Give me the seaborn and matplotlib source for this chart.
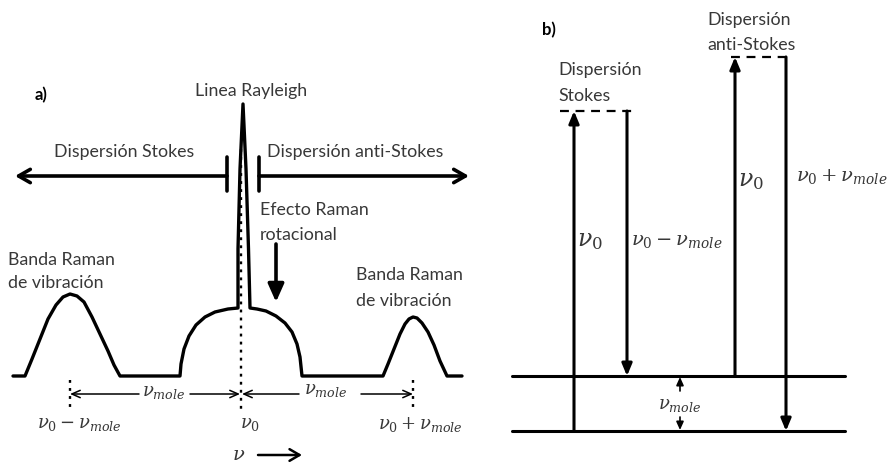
import matplotlib
matplotlib.use("Agg")
import matplotlib.pyplot as plt
import pandas as pd
import seaborn as sns

# ---------------------------------------------------------------
# Canvas coordinates: x to the right, y downwards (0..892, 0..464)
# ---------------------------------------------------------------

# a) Raman spectrum profile, traced left to right along the baseline
baseline_y = 377
baseline_x_range = [13, 462]

stokes_band_x = [25, 32, 40, 48, 56, 63, 70, 77, 84, 92, 100, 108, 114, 120]
stokes_band_y = [377, 360, 340, 320, 306, 298, 295, 297, 303, 318, 335, 352, 366, 377]

rayleigh_x = [180, 181, 184, 189, 196, 205, 215, 228, 238, 238, 240, 243,
              246, 248.5, 250, 257, 266, 276, 285, 292, 297, 300, 302]
rayleigh_y = [377, 365, 350, 337, 326, 318, 313, 310, 309, 250, 170, 105,
              170, 250, 309, 310, 312, 317, 324, 333, 345, 358, 377]

antistokes_band_x = [383, 388, 394, 400, 405, 409, 413, 417, 422, 428, 434, 440, 447]
antistokes_band_y = [377, 365, 350, 335, 325, 320, 318, 319, 324, 333, 346, 362, 377]

# frequency markers on the spectrum axis
freq_x = {"stokes": 70, "rayleigh": 241, "antistokes": 413}

# b) energy-level diagram
ground_level_y = 432
vib_level_y = 377
level_x_range = [512, 845]
stokes_virtual_y = 112
antistokes_virtual_y = 58
stokes_up_x, stokes_down_x = 574, 627
antistokes_up_x, antistokes_down_x = 735, 786

INK = "black"
TXT = "#383838"
FS = 12.8

sns.set_theme(style="white")
plt.rcParams["font.family"] = ["Lato", "DejaVu Sans"]
plt.rcParams["mathtext.fontset"] = "dejavuserif"

fig = plt.figure(figsize=(8.92, 4.64), dpi=100)
ax = fig.add_axes([0, 0, 1, 1])
ax.set_xlim(0, 892)
ax.set_ylim(464, 0)
ax.axis("off")

# ---------------- panel a ----------------
prof_x = ([baseline_x_range[0]] + stokes_band_x + rayleigh_x
          + antistokes_band_x + [baseline_x_range[1]])
prof_y = ([baseline_y] + stokes_band_y + rayleigh_y
          + antistokes_band_y + [baseline_y])
spec = pd.DataFrame({"x": prof_x, "y": prof_y})
sns.lineplot(data=spec, x="x", y="y", sort=False, estimator=None, color=INK,
             lw=2.4, ax=ax)

dot = (0, (1.2, 2.2))
ax.plot([freq_x["rayleigh"]] * 2, [150, 412], color=INK, lw=1.7, ls=dot)
ax.plot([freq_x["stokes"]] * 2, [381, 412], color=INK, lw=1.7, ls=dot)
ax.plot([freq_x["antistokes"]] * 2, [381, 412], color=INK, lw=1.7, ls=dot)

# νmole spacing arrows, split around their labels
head_kw = dict(arrowstyle="->,head_length=0.5,head_width=0.22", lw=1.1, color=INK,
               shrinkA=0, shrinkB=0)
ax.annotate("", xy=(freq_x["stokes"], 395), xytext=(139, 395), arrowprops=head_kw)
ax.annotate("", xy=(freq_x["rayleigh"] - 1, 395), xytext=(190, 395), arrowprops=head_kw)
ax.annotate("", xy=(freq_x["rayleigh"] + 1, 395), xytext=(299, 395), arrowprops=head_kw)
ax.annotate("", xy=(freq_x["antistokes"], 395), xytext=(361, 395), arrowprops=head_kw)
ax.text(164, 393, r"$\nu_{mole}$", fontsize=13, color=TXT, ha="center", va="center")
ax.text(326, 391, r"$\nu_{mole}$", fontsize=13, color=TXT, ha="center", va="center")

ax.text(79, 425, r"$\nu_0 - \nu_{mole}$", fontsize=13, color=TXT, ha="center", va="center")
ax.text(250, 425, r"$\nu_0$", fontsize=13, color=TXT, ha="center", va="center")
ax.text(420, 425, r"$\nu_0 + \nu_{mole}$", fontsize=13, color=TXT, ha="center", va="center")

ax.text(239, 455, r"$\nu$", fontsize=14, color=TXT, ha="center", va="center")
ax.annotate("", xy=(302, 456), xytext=(258, 456),
            arrowprops=dict(arrowstyle="->,head_length=0.6,head_width=0.35",
                            lw=1.8, color=INK, shrinkA=0, shrinkB=0))

# Stokes / anti-Stokes direction arrows
dir_kw = dict(arrowstyle="->,head_length=0.7,head_width=0.4", lw=2.6, color=INK,
              shrinkA=0, shrinkB=0)
ax.annotate("", xy=(15, 177), xytext=(227, 177), arrowprops=dir_kw)
ax.annotate("", xy=(469, 177), xytext=(259, 177), arrowprops=dir_kw)
ax.plot([227, 227], [158, 192], color=INK, lw=2.6)
ax.plot([259, 259], [158, 192], color=INK, lw=2.6)

ax.text(124, 152, "Dispersión Stokes", fontsize=FS, color=TXT, ha="center", va="center")
ax.text(355, 152, "Dispersión anti-Stokes", fontsize=FS, color=TXT, ha="center", va="center")
ax.text(251, 91, "Linea Rayleigh", fontsize=FS, color=TXT, ha="center", va="center")
ax.text(35, 95, "a)", fontsize=12, color=INK, ha="left", va="center", fontweight="bold")

ax.text(260, 210, "Efecto Raman", fontsize=FS, color=TXT, ha="left", va="center")
ax.text(260, 235, "rotacional", fontsize=FS, color=TXT, ha="left", va="center")
ax.annotate("", xy=(276, 303), xytext=(276, 245),
            arrowprops=dict(arrowstyle="-|>,head_length=0.9,head_width=0.4",
                            lw=2.6, color=INK, shrinkA=0, shrinkB=0))

ax.text(8, 260, "Banda Raman", fontsize=FS, color=TXT, ha="left", va="center")
ax.text(8, 283, "de vibración", fontsize=FS, color=TXT, ha="left", va="center")
ax.text(356, 275, "Banda Raman", fontsize=FS, color=TXT, ha="left", va="center")
ax.text(356, 301, "de vibración", fontsize=FS, color=TXT, ha="left", va="center")

# ---------------- panel b ----------------
for ly in (vib_level_y, ground_level_y):
    lev = pd.DataFrame({"x": level_x_range, "y": [ly, ly]})
    sns.lineplot(data=lev, x="x", y="y", estimator=None, color=INK, lw=2.2, ax=ax)

ax.plot([560, stokes_down_x + 6], [stokes_virtual_y] * 2, color=INK, lw=1.6, ls=(0, (4, 3)))
ax.plot([antistokes_up_x - 4, antistokes_down_x + 6], [antistokes_virtual_y] * 2,
        color=INK, lw=1.6, ls=(0, (4, 3)))

trans_kw = dict(arrowstyle="-|>,head_length=0.6,head_width=0.25", lw=2.2, color=INK,
                shrinkA=0, shrinkB=0)
ax.annotate("", xy=(stokes_up_x, stokes_virtual_y), xytext=(stokes_up_x, ground_level_y),
            arrowprops=trans_kw)
ax.annotate("", xy=(stokes_down_x, vib_level_y), xytext=(stokes_down_x, stokes_virtual_y),
            arrowprops=trans_kw)
ax.annotate("", xy=(antistokes_up_x, antistokes_virtual_y),
            xytext=(antistokes_up_x, vib_level_y), arrowprops=trans_kw)
ax.annotate("", xy=(antistokes_down_x, ground_level_y),
            xytext=(antistokes_down_x, antistokes_virtual_y), arrowprops=trans_kw)

small_kw = dict(arrowstyle="-|>,head_length=0.4,head_width=0.18", lw=1.2, color=INK,
                shrinkA=0, shrinkB=0)
ax.annotate("", xy=(680, vib_level_y + 1), xytext=(680, 392), arrowprops=small_kw)
ax.annotate("", xy=(680, ground_level_y - 1), xytext=(680, 418), arrowprops=small_kw)
ax.text(680, 406, r"$\nu_{mole}$", fontsize=13, color=TXT, ha="center", va="center")

ax.text(577, 242, r"$\nu_0$", fontsize=17, color=TXT, ha="left", va="center")
ax.text(631, 242, r"$\nu_0 - \nu_{mole}$", fontsize=14, color=TXT, ha="left", va="center")
ax.text(738, 182, r"$\nu_0$", fontsize=17, color=TXT, ha="left", va="center")
ax.text(796, 177, r"$\nu_0 + \nu_{mole}$", fontsize=14, color=TXT, ha="left", va="center")

ax.text(558, 70, "Dispersión", fontsize=FS, color=TXT, ha="left", va="center")
ax.text(558, 96, "Stokes", fontsize=FS, color=TXT, ha="left", va="center")
ax.text(707, 20, "Dispersión", fontsize=FS, color=TXT, ha="left", va="center")
ax.text(707, 45, "anti-Stokes", fontsize=FS, color=TXT, ha="left", va="center")
ax.text(542, 30, "b)", fontsize=12, color=INK, ha="left", va="center", fontweight="bold")

fig.savefig("out.png", dpi=100, facecolor="white")
